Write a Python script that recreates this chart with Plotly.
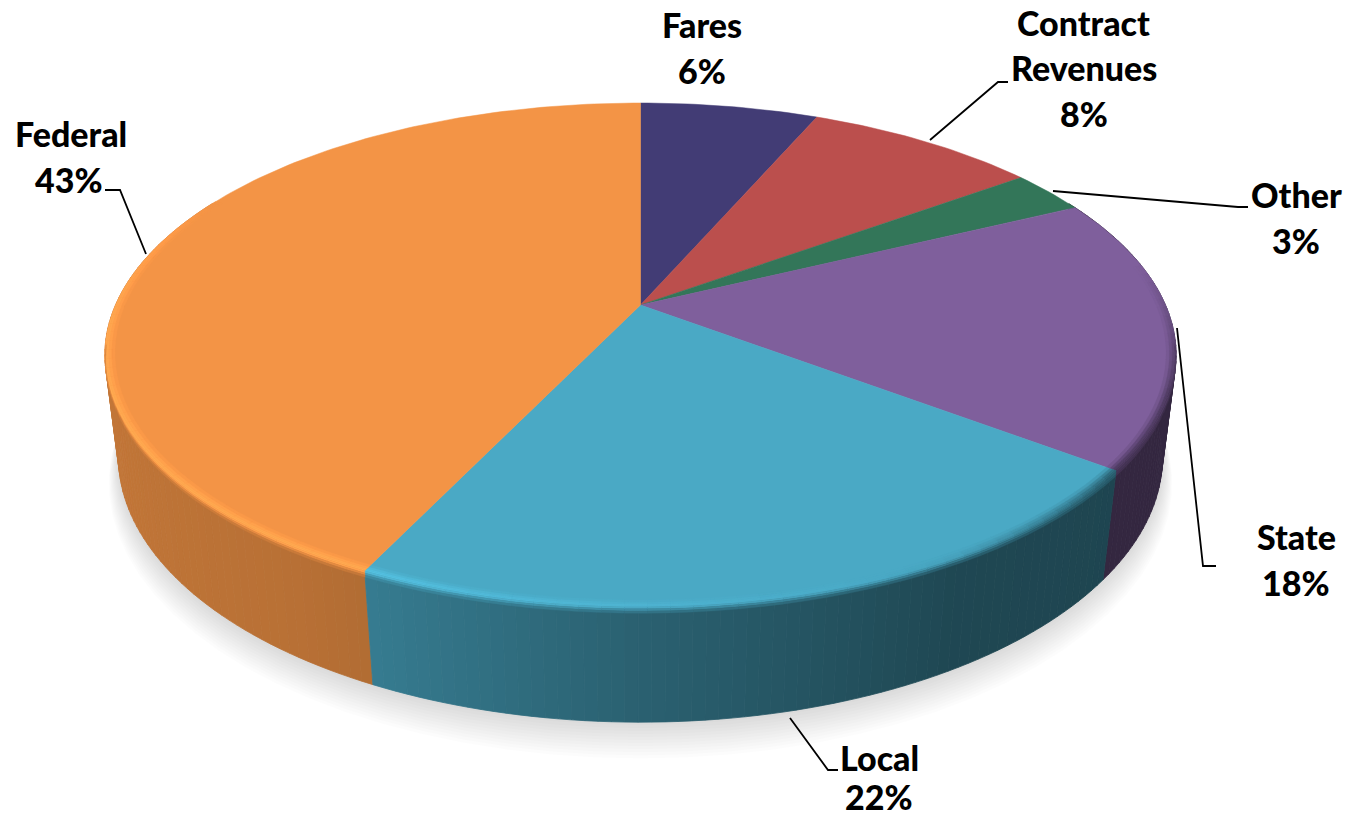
import math
import plotly.graph_objects as go

# ---- data ----
categories = ["Fares", "Contract Revenues", "Other", "State", "Local", "Federal"]
values = [6.5, 8.5, 2.8, 17.5, 21.8, 42.9]
percent_labels = ["6%", "8%", "3%", "18%", "22%", "43%"]
top_colors = ["#423c75", "#bb4f4d", "#337659", "#7f5f9c", "#4aa9c5", "#f39446"]

label_lines = [
    ("Fares", 702, 24), ("6%", 702, 70),
    ("Contract", 1083, 22), ("Revenues", 1084, 67), ("8%", 1084, 113),
    ("Other", 1296, 194), ("3%", 1296, 240),
    ("State", 1296, 536), ("18%", 1296, 582),
    ("Local", 879, 757), ("22%", 879, 796),
    ("Federal", 71, 133), ("43%", 69, 179),
]
leaders = [
    [(930, 140), (998, 82), (1008, 82)],
    [(1053, 191), (1238, 207), (1248, 207)],
    [(1177, 328), (1203, 566), (1216, 566)],
    [(790, 718), (828, 770), (838, 770)],
    [(146, 254), (120, 190), (105, 190)],
]

# ---- projection of a tilted disc ----
CX, CY, A, B, K, M, H = 640.5, 305.0, 525.0, 242.0, 0.198, 0.025, 103.0


def project(deg, r=1.0, z=0.0):
    a = math.radians(deg)
    u, v = r * math.sin(a), r * math.cos(a)
    w = 1 + K * v + M * z
    return CX + A * u / w, CY + (-B * v + H * z) / w


def hex_rgb(c):
    return tuple(int(c[i:i + 2], 16) for i in (1, 3, 5))


def rgb(t):
    return "rgb(%d,%d,%d)" % tuple(max(0, min(255, round(x))) for x in t)


def lerp_table(table, x):
    x = x % 360
    for (a, fa), (b, fb) in zip(table, table[1:]):
        if a <= x <= b:
            return fa + (fb - fa) * (x - a) / (b - a)
    return table[-1][1]


SIDE_SHADE = [(0, .5), (60, .35), (90, .41), (126, .41), (150, .42), (180, .57), (205, .73),
              (215, .76), (270, .82), (300, .86), (360, .9)]
# rim highlight: >0 lightens, <0 darkens toward the side colour
RIM = [(0, 0), (80, 0), (95, -.35), (110, -.7), (128, -.7), (150, -.1), (165, .1), (190, .35), (206, .55),
       (250, .55), (272, .45), (285, .25), (297, 0), (360, 0)]

fig = go.Figure()


def poly(xs, ys, color, lw=0.6):
    fig.add_trace(go.Scatter(x=xs, y=ys, mode="lines", fill="toself", fillcolor=color,
                             line=dict(color=color, width=lw), hoverinfo="skip", showlegend=False))


# ---- slice angles from the values ----
total = sum(values)
edges = [0.0]
for val in values:
    edges.append(edges[-1] + 360.0 * val / total)
spans = list(zip(edges, edges[1:], top_colors))

# ---- soft shadow ----
for i in range(12, 0, -1):
    pts = [project(d, 1 + 0.002 * i, 1 + 0.02 * i) for d in range(0, 361, 4)]
    fig.add_trace(go.Scatter(x=[p[0] for p in pts], y=[p[1] for p in pts], mode="lines",
                             fill="toself", fillcolor="rgba(0,0,0,0.012)", line=dict(width=0),
                             hoverinfo="skip", showlegend=False))

# ---- side wall strips, far to near ----
strips = []
for start, end, col in spans:
    n = max(1, int((end - start) / 1.2))
    for j in range(n):
        strips.append((start + (end - start) * j / n, start + (end - start) * (j + 1) / n, col))
strips.sort(key=lambda s: -math.cos(math.radians((s[0] + s[1]) / 2)))
for a0, a1, col in strips:
    if math.cos(math.radians((a0 + a1) / 2)) > 0.45:
        continue
    f = lerp_table(SIDE_SHADE, (a0 + a1) / 2)
    c = rgb(tuple(x * f for x in hex_rgb(col)))
    pts = [project(a0), project(a1), project(a1, 1, 1), project(a0, 1, 1)]
    poly([p[0] for p in pts] + [pts[0][0]], [p[1] for p in pts] + [pts[0][1]], c, 0.8)

# ---- top face ----
for start, end, col in spans:
    n = max(2, int((end - start) / 1.0))
    pts = [project(start + (end - start) * j / n) for j in range(n + 1)]
    xs = [CX] + [p[0] for p in pts] + [CX]
    ys = [CY] + [p[1] for p in pts] + [CY]
    poly(xs, ys, col, 0.5)

# ---- rim highlight: bands (r0, z0, r1, z1, weight, side mix) ----
BANDS = [
    (.982, 0, .988, 0, .2, 0), (.988, 0, .993, 0, .55, 0), (.993, 0, .997, 0, .85, 0), (.997, 0, 1, 0, 1, 0),
    (1, 0, 1, .018, 1, .15), (1, .018, 1, .036, .7, .45), (1, .036, 1, .055, .3, .75),
]
for start, end, col in spans:
    base = hex_rgb(col)
    n = max(1, int((end - start) / 2))
    for j in range(n):
        a0 = start + (end - start) * j / n
        a1 = start + (end - start) * (j + 1) / n
        mid = (a0 + a1) / 2
        amount = lerp_table(RIM, mid)
        if amount == 0:
            continue
        f = lerp_table(SIDE_SHADE, mid)
        side = tuple(x * f for x in base)
        for r0, z0, r1, z1, w, mix in BANDS:
            if z1 > 0 and math.cos(math.radians(mid)) > -0.15:
                continue
            s = amount * w
            if s > 0:
                lit = tuple(x * (1 + .28 * s) for x in base)
            else:
                lit = tuple(x * (1 + s * (1 - f)) for x in base)
            c = tuple(lit[i] * (1 - mix) + side[i] * mix for i in range(3))
            pts = [project(a0, r0, z0), project(a1, r0, z0), project(a1, r1, z1), project(a0, r1, z1)]
            poly([p[0] for p in pts] + [pts[0][0]], [p[1] for p in pts] + [pts[0][1]], rgb(c), 0.3)

# ---- leader lines ----
for line in leaders:
    fig.add_trace(go.Scatter(x=[p[0] for p in line], y=[p[1] for p in line], mode="lines",
                             line=dict(color="black", width=1.8), hoverinfo="skip", showlegend=False))

# ---- labels ----
for txt, x, y in label_lines:
    fig.add_annotation(x=x, y=y, text=txt, showarrow=False,
                       xanchor="center", yanchor="middle",
                       font=dict(family="Lato", size=34, color="black", weight=900))

fig.update_layout(
    width=1346, height=819, autosize=False,
    margin=dict(l=0, r=0, t=0, b=0),
    paper_bgcolor="white", plot_bgcolor="white", showlegend=False,
    xaxis=dict(range=[0, 1346], visible=False, fixedrange=True),
    yaxis=dict(range=[819, 0], visible=False, fixedrange=True),
)
fig.write_html("out.html", config={"displayModeBar": False},
               post_script="document.body.style.margin='0';document.body.style.overflow='hidden';")
